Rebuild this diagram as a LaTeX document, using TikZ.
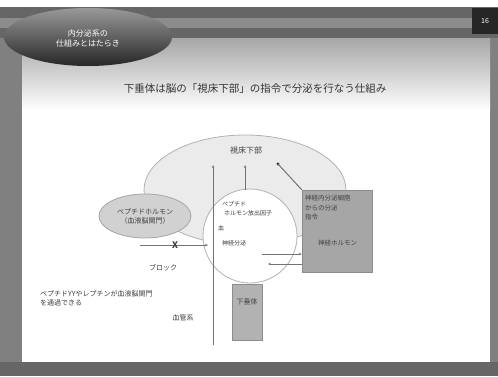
\documentclass[tikz,border=0pt]{standalone}
\usepackage{fontspec}
\newfontfamily\jp{Noto Sans CJK JP}
\usetikzlibrary{shapes.geometric,arrows.meta}
\begin{document}
\begin{tikzpicture}[x=1pt,y=-1pt,
  txt/.style={font=\jp\fontsize{7}{9}\selectfont, text=black!75, inner sep=0pt, align=left},
  stxt/.style={txt, font=\jp\fontsize{6}{7.5}\selectfont},
  ln/.style={draw=black!55, line width=0.8pt},
  arr/.style={ln, -{Stealth[length=3pt,width=2.5pt]}}]
\useasboundingbox (0,0) rectangle (498,376);
% frame
\fill[white] (0,0) rectangle (498,376);
\fill[black!50] (0,7) rectangle (498,376);
\fill[black!60] (0,7) rectangle (498,38);
\fill[black!45] (0,18) rectangle (498,28);
\fill[top color=black!35, bottom color=white] (22,38) rectangle (490,110);
\fill[white] (22,110) rectangle (490,362);
\fill[black!60] (0,362) rectangle (498,376);
% title banner
\node[ellipse, minimum width=168pt, minimum height=58pt, top color=black!40, bottom color=black!85, draw=none] (banner) at (88,37) {};
\node[txt, text=white, align=center, font=\jp\fontsize{8}{10}\selectfont] (bannertext) at (88,38) {内分泌系の\\仕組みとはたらき};
% page tag
\node[fill=black!85, minimum width=26pt, minimum height=26pt, inner sep=0pt] (tag) at (485,21) {};
\node[txt, text=white] (tagtext) at (485,21) {16};
% heading
\node[txt, text=black!80, font=\jp\fontsize{10.5}{12}\selectfont] (head) at (255,89) {下垂体は脳の「視床下部」の指令で分泌を行なう仕組み};
% dome
\node[ellipse, draw=black!30, fill=black!8, line width=0.8pt, minimum width=202pt, minimum height=110pt] (dome) at (245,190) {};
% left ellipse
\node[ellipse, draw=black!35, fill=black!18, line width=0.8pt, minimum width=92pt, minimum height=44pt] (lell) at (145,216) {};
\node[txt, align=center] (ltext) at (145,216) {ペプチドホルモン\\（血液脳関門）};
% inner circle
\node[circle, draw=black!30, fill=white, line width=0.8pt, minimum size=94pt] (circ) at (250,236) {};
% stem
\node[draw=black!45, fill=black!30, line width=0.8pt, minimum width=30pt, minimum height=56pt, inner sep=0pt] (stem) at (247,312) {};
\node[txt] (stemtext) at (247,302) {下垂体};
% right box
\node[draw=black!45, fill=black!35, minimum width=70pt, minimum height=82pt, inner sep=0pt] (rbox) at (337,231) {};
\node[txt, anchor=north west, font=\jp\fontsize{6.5}{9.5}\selectfont] (rtext) at (305,195) {神経内分泌細胞\\からの分泌\\指令};
\node[txt, anchor=west, font=\jp\fontsize{6.5}{8}\selectfont] (rtext2) at (318,243) {神経ホルモン};
% dome label
\node[txt, font=\jp\fontsize{8}{9}\selectfont] (domelabel) at (246,150) {視床下部};
% circle texts
\node[stxt, anchor=west] (c1) at (222,204) {ペプチド};
\node[stxt, anchor=west] (c2) at (224,213) {ホルモン放出因子};
\node[stxt, anchor=west] (c3) at (218,228) {血};
\node[stxt, anchor=west] (c4) at (222,243) {神経分泌};
% long vertical line
\coordinate (vb) at (213,345);
\coordinate (vt) at (213,165);
\draw[arr] (vb) -- (vt);
\coordinate (v2b) at (245,190);
\coordinate (v2t) at (245,165);
\draw[arr] (v2b) -- (v2t);
% diagonal
\coordinate (dg) at (278,164);
\fill[black!80] (dg) circle (1.6pt);
\draw[ln, line width=1pt] (dg) -- (rbox.north west);
% block arrow
\coordinate (bl) at (140,245);
\coordinate (br) at (208,245);
\draw[arr] (bl) -- (br);
\node[txt, font=\jp\fontsize{9}{9}\selectfont\bfseries] (x) at (175,245) {X};
\node[txt] (block) at (163,268) {ブロック};
% lower arrows into box
\coordinate (a1) at (262,254);
\coordinate (a2) at (268,264);
\draw[arr] (a1) -- (a1 -| rbox.west);
\draw[arr] (a2 -| rbox.west) -- (a2);
% bottom-left text
\node[txt, anchor=west] (bt) at (40,298) {ペプチドYYやレプチンが血液脳関門\\を通過できる};
\node[txt] (vessel) at (183,318) {血管系};
\end{tikzpicture}
\end{document}
